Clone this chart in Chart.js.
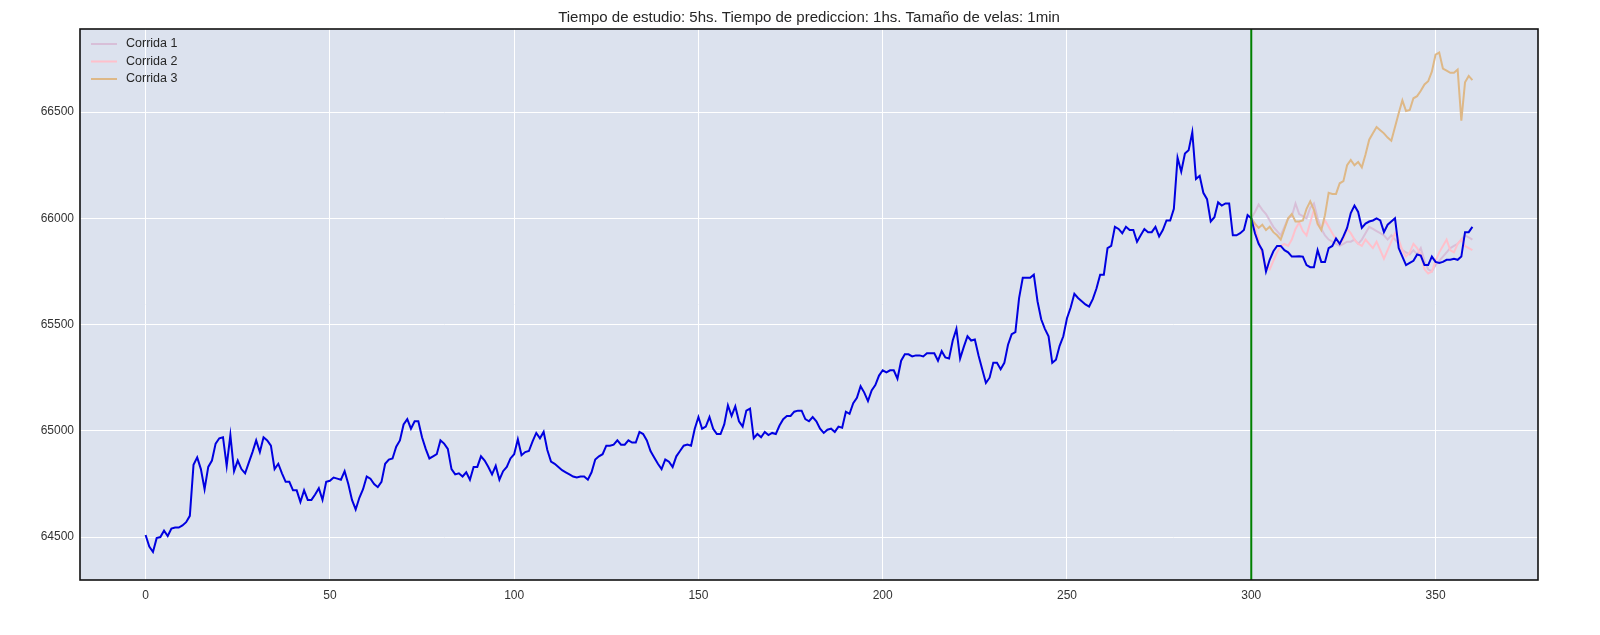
<!DOCTYPE html>
<html><head><meta charset="utf-8">
<script src="https://cdn.jsdelivr.net/npm/chart.js@4"></script>
<style>html,body{margin:0;padding:0;background:#fff}#w{width:1600px;height:635px}</style>
</head><body><div id="w"><canvas id="c"></canvas></div>
<script>
const titleText = "Tiempo de estudio: 5hs. Tiempo de prediccion: 1hs. Tamaño de velas: 1min";
const seriesNames = ["Corrida 1","Corrida 2","Corrida 3"];
const yTicks = [64500,65000,65500,66000,66500];
const xTicks = [0,50,100,150,200,250,300,350];
const splitX = 300;
const real = [
64510,64455,64430,64495,64500,64530,64505,64540,64545,64545,64555,64570,64600,64840,64875,64820,64725,64830,64860,64940,
64965,64970,64835,64980,64810,64860,64820,64800,64850,64900,64955,64900,64970,64955,64930,64820,64845,64800,64760,64760,
64720,64720,64665,64720,64675,64675,64700,64730,64675,64760,64765,64780,64775,64770,64810,64750,64675,64630,64685,64725,
64785,64775,64750,64735,64760,64845,64865,64870,64925,64955,65030,65055,65010,65045,65045,64970,64915,64870,64880,64890,
64955,64940,64915,64820,64795,64800,64785,64805,64770,64830,64830,64880,64860,64830,64795,64835,64770,64810,64830,64870,
64890,64960,64885,64900,64905,64950,64990,64965,64995,64910,64855,64845,64830,64815,64805,64795,64785,64780,64785,64785,
64770,64805,64865,64880,64890,64930,64930,64935,64955,64935,64935,64955,64945,64945,64995,64985,64955,64905,64875,64845,
64820,64865,64855,64830,64880,64905,64930,64935,64930,65010,65065,65010,65020,65065,65010,64985,64985,65030,65120,65070,
65115,65045,65020,65095,65105,64965,64985,64970,64995,64980,64990,64985,65025,65055,65070,65070,65090,65095,65095,65055,
65045,65065,65045,65010,64990,65005,65010,64995,65020,65015,65090,65080,65130,65155,65210,65180,65140,65190,65215,65260,
65285,65275,65285,65285,65245,65330,65360,65360,65350,65355,65355,65350,65365,65365,65365,65330,65375,65345,65340,65425,
65480,65340,65395,65445,65425,65430,65355,65290,65225,65250,65320,65320,65290,65320,65405,65455,65465,65625,65720,65720,
65720,65735,65610,65525,65480,65445,65320,65335,65400,65445,65530,65580,65645,65625,65610,65595,65585,65620,65670,65735,
65735,65860,65870,65960,65950,65930,65960,65945,65945,65890,65920,65950,65935,65935,65960,65915,65945,65990,65990,66045,
66285,66220,66305,66320,66405,66185,66200,66120,66090,65985,66005,66075,66060,66070,66070,65920,65920,65930,65945,66015,
66000,65930,65880,65850,65750,65805,65845,65870,65870,65850,65840,65820,65820,65822,65820,65780,65770,65770,65850,65795,
65795,65860,65870,65905,65880,65915,65955,66025,66060,66030,65955,65975,65985,65990,66000,65990,65935,65970,65985,66000,
65860,65820,65780,65790,65800,65830,65825,65780,65780,65820,65795,65790,65795,65805,65805,65810,65805,65820,65935,65935,
65960];
const run1 = [66000,66030,66065,66040,66020,65990,65960,65940,65920,65960,66000,66010,66070,66020,66010,66000,66050,66070,66000,65950,65920,
65900,65890,65880,65870,65880,65890,65890,65900,65880,65900,
65930,65960,65950,65940,65930,65920,65900,65920,65900,65880,
65850,65840,65830,65850,65830,65860,65800,65760,65750,65780,
65800,65820,65840,65860,65870,65880,65900,65920,65910,65900];
const run2 = [66000,65960,65900,65820,65780,65760,65800,65840,65870,65880,65870,65900,65950,65980,65940,65920,65980,66040,65970,65950,65990,
65960,65930,65900,65880,65900,65950,65930,65900,65880,65870,
65900,65880,65860,65890,65850,65810,65850,65890,65930,65900,
65850,65820,65840,65880,65860,65830,65760,65740,65750,65800,
65840,65870,65900,65850,65840,65880,65900,65870,65860,65850];
const run3 = [66000,65975,65955,65970,65945,65960,65935,65920,65900,65950,66000,66020,65985,65985,65990,66045,66080,66040,65975,65945,66015,
66120,66115,66115,66165,66175,66250,66275,66250,66265,66240,
66300,66370,66400,66430,66415,66400,66380,66365,66430,66495,
66555,66505,66510,66565,66575,66600,66630,66645,66690,66770,
66780,66705,66695,66685,66685,66700,66460,66640,66670,66650];

const Y_MIN = 64298, Y_MAX = 66891;
const pts = (arr, off) => arr.map((v,i)=>({x:i+off,y:v}));
const colors = ['#D8BFD8','#FFC0CB','#DEB887'];

const bgPlugin = {
  id:'bg',
  beforeDraw(ch){
    const {ctx, chartArea:a} = ch;
    ctx.save(); ctx.fillStyle='#dce2ee'; ctx.fillRect(a.left,a.top,a.right-a.left,a.bottom-a.top); ctx.restore();
  },
  afterDraw(ch){
    const {ctx, chartArea:a} = ch;
    ctx.save();
    ctx.strokeStyle='#111'; ctx.lineWidth=1.6; ctx.strokeRect(a.left,a.top,a.right-a.left,a.bottom-a.top);
    ctx.fillStyle='#262626'; ctx.font='15px "Liberation Sans", Arial, sans-serif'; ctx.textAlign='center'; ctx.textBaseline='alphabetic';
    ctx.fillText(titleText,(a.left+a.right)/2,22);
    ctx.font='12.5px "Liberation Sans", Arial, sans-serif'; ctx.textAlign='left'; ctx.textBaseline='middle';
    seriesNames.forEach((n,i)=>{
      const y = a.top+15+i*17.5;
      ctx.strokeStyle=colors[i]; ctx.lineWidth=2; ctx.beginPath(); ctx.moveTo(a.left+11,y); ctx.lineTo(a.left+37,y); ctx.stroke();
      ctx.fillStyle='#262626'; ctx.fillText(n,a.left+46,y);
    });
    ctx.restore();
  }
};

new Chart(document.getElementById('c'),{
  type:'line',
  data:{datasets:[
    {label:seriesNames[0],data:pts(run1,splitX),borderColor:colors[0],borderWidth:2,pointRadius:0,order:3},
    {label:seriesNames[1],data:pts(run2,splitX),borderColor:colors[1],borderWidth:2,pointRadius:0,order:2},
    {label:seriesNames[2],data:pts(run3,splitX),borderColor:colors[2],borderWidth:2,pointRadius:0,order:1},
    {label:'real',data:pts(real,0),borderColor:'#0000e0',borderWidth:2,pointRadius:0,order:0},
    {label:'split',data:[{x:splitX,y:Y_MIN},{x:splitX,y:Y_MAX}],borderColor:'#008000',borderWidth:2,pointRadius:0,order:-1}
  ]},
  plugins:[bgPlugin],
  options:{
    responsive:true,maintainAspectRatio:false,animation:false,
    layout:{padding:{left:0,right:62,top:29,bottom:0}},
    plugins:{legend:{display:false},title:{display:false},tooltip:{enabled:false}},
    elements:{line:{tension:0}},
    scales:{
      x:{type:'linear',min:-17.8,max:377.8,
        afterBuildTicks(s){s.ticks=xTicks.map(v=>({value:v}));},
        afterFit(s){s.height=55;},
        grid:{color:'#ffffff',lineWidth:1,drawTicks:false},border:{display:false},
        ticks:{color:'#333',font:{size:12,family:'"Liberation Sans", Arial'},padding:8,maxRotation:0,callback:v=>String(v)}},
      y:{min:Y_MIN,max:Y_MAX,
        afterBuildTicks(s){s.ticks=yTicks.map(v=>({value:v}));},
        afterFit(s){s.width=80;},
        grid:{color:'#ffffff',lineWidth:1,drawTicks:false},border:{display:false},
        ticks:{color:'#333',font:{size:12,family:'"Liberation Sans", Arial'},padding:6,callback:v=>String(v)}}
    }
  }
});
</script></body></html>
